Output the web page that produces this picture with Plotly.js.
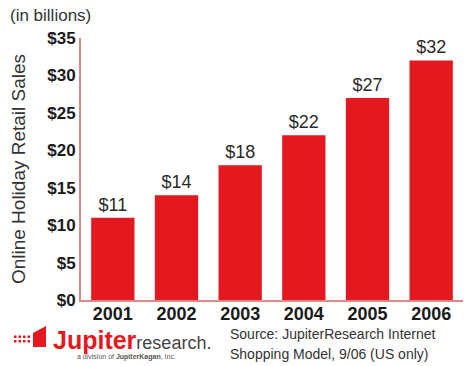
<!DOCTYPE html>
<html>
<head>
<meta charset="utf-8">
<script src="https://cdn.plot.ly/plotly-3.0.1.min.js"></script>
<style>html,body{margin:0;padding:0;background:#fff;}#chart{width:472px;height:366px;}</style>
</head>
<body>
<div id="chart"></div>
<script>
const years = ["2001", "2002", "2003", "2004", "2005", "2006"];
const sales = [11, 14, 18, 22, 27, 32];
const tickVals = [0, 5, 10, 15, 20, 25, 30, 35];
const tickText = ["$0", "$5", "$10", "$15", "$20", "$25", "$30", "$35"];
const barLabels = sales.map(v => "$" + v);

const font = "Liberation Sans, Arial, sans-serif";

const trace = {
  type: "bar",
  x: years,
  y: sales,
  marker: {color: "#e3191f"},
  text: barLabels,
  textposition: "outside",
  textfont: {family: font, size: 18, color: "#2a2a2a"},
  cliponaxis: false,
  hoverinfo: "none"
};

const W = 382, H = 262;
const layout = {
  width: 472, height: 366,
  margin: {l: 81, r: 9, t: 38, b: 66},
  paper_bgcolor: "#ffffff",
  plot_bgcolor: "#ffffff",
  showlegend: false,
  bargap: 0.32,
  font: {family: font, color: "#222"},
  xaxis: {
    type: "category",
    showline: true, linecolor: "#d98a8a", linewidth: 2,
    ticks: "", showgrid: false,
    ticklabelstandoff: -4,
    tickfont: {family: font, size: 18, color: "#1a1a1a", weight: "bold"}
  },
  yaxis: {
    range: [0, 35],
    tickvals: tickVals, ticktext: tickText,
    showline: true, linecolor: "#d98a8a", linewidth: 2,
    ticks: "", showgrid: false, zeroline: false,
    tickfont: {family: font, size: 17, color: "#1a1a1a", weight: "bold"},
    title: {text: "Online Holiday Retail Sales", font: {family: font, size: 19, color: "#333"}, standoff: 17}
  },
  annotations: [
    {xref: "paper", yref: "paper", x: -73/W, y: 1 + 23/H, xanchor: "left", yanchor: "middle",
     text: "(in billions)", showarrow: false, font: {family: font, size: 17, color: "#333"}},
    {xref: "paper", yref: "paper", x: 147/W, y: -34/H, xanchor: "left", yanchor: "middle",
     text: "Source: JupiterResearch Internet", showarrow: false, font: {family: font, size: 14, color: "#333"}},
    {xref: "paper", yref: "paper", x: 147/W, y: -54/H, xanchor: "left", yanchor: "middle",
     text: "Shopping Model, 9/06 (US only)", showarrow: false, font: {family: font, size: 14, color: "#333"}},
    {xref: "paper", yref: "paper", x: -30/W, y: -40/H, xanchor: "left", yanchor: "middle",
     text: "<b><span style='color:#e3191f;font-size:25px'>Jupiter</span></b><span style='color:#444;font-size:18px'>research.</span>",
     showarrow: false, font: {family: font, size: 22}},
    {xref: "paper", yref: "paper", x: -6/W, y: -57/H, xanchor: "left", yanchor: "middle",
     text: "a division of <b>JupiterKagan</b>, Inc.", showarrow: false, font: {family: font, size: 7, color: "#555"}}
  ],
  shapes: [
    ...[0,1,2,3].flatMap(i => [0,1].map(j => ({
      type: "rect", xref: "paper", yref: "paper",
      x0: (-67 + i*4.5)/W, x1: (-64.5 + i*4.5)/W,
      y0: (-38 - j*4.5)/H, y1: (-35.5 - j*4.5)/H,
      fillcolor: "#e3191f", line: {width: 0}
    }))),
    {type: "path", xref: "paper", yref: "paper",
     path: `M ${-48/W} ${-47/H} L ${-48/W} ${-33/H} L ${-35/W} ${-26/H} L ${-35/W} ${-47/H} Z`,
     fillcolor: "#e3191f", line: {width: 0}}
  ]
};

Plotly.newPlot("chart", [trace], layout, {staticPlot: true, displayModeBar: false});
</script>
</body>
</html>
